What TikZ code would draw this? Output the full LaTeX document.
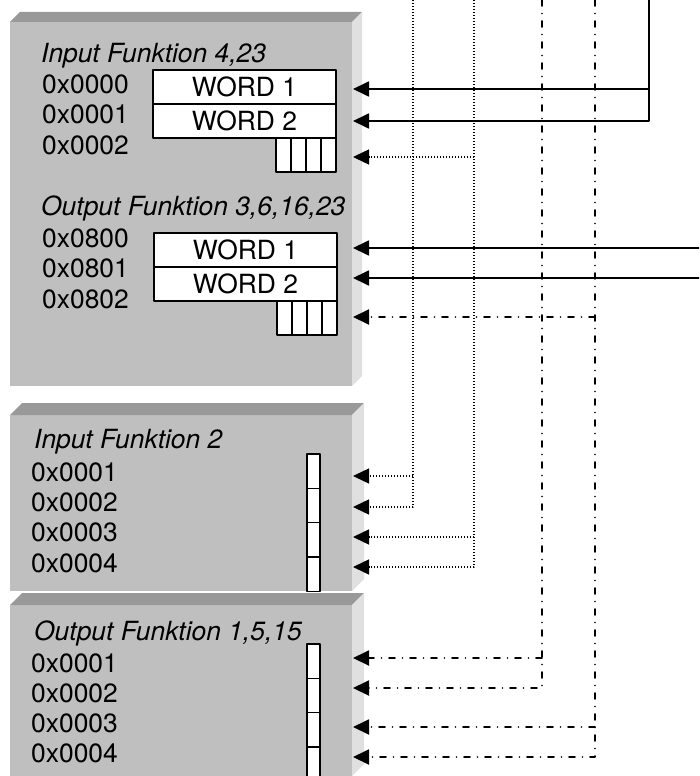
\documentclass[tikz,border=0pt]{standalone}
\usepackage{fontspec}
\setmainfont{TeX Gyre Heros}
\usetikzlibrary{arrows.meta}
\definecolor{slabfront}{gray}{0.75}
\definecolor{slabtop}{gray}{0.6}
\definecolor{slabside}{gray}{0.88}
\newcommand{\diagfont}{\fontsize{26.4pt}{30pt}\selectfont}
\begin{document}
\begin{tikzpicture}[x=1pt,y=-1pt,line join=round,line cap=round,
	>={Triangle[length=16pt,width=15pt]},
	fktlabel/.style={anchor=base west,inner sep=0pt,font=\diagfont\itshape},
	addrlabel/.style={anchor=base west,inner sep=0pt,font=\diagfont},
	wordbox/.style={draw,fill=white,line width=1.4pt,minimum width=183pt,minimum height=34pt,inner sep=0pt,font=\diagfont},
	bitbox/.style={draw,fill=white,line width=1.4pt,minimum width=15pt,minimum height=34pt,inner sep=0pt},
	regbox/.style={draw,fill=white,line width=1.4pt,minimum width=13pt,minimum height=34.3pt,inner sep=0pt},
	solidarr/.style={->,line width=1.8pt},
	dotarr/.style={->,line width=1.5pt,line cap=butt,dash pattern=on 1.4pt off 1.6pt},
	dasharr/.style={->,line width=1.9pt,dash pattern=on 6pt off 7.5pt on 0pt off 7.5pt}]
		\useasboundingbox (0,0) rectangle (699,776);
		\clip (0,0) rectangle (699,776);
		\foreach \ya/\yb/\d in {22/386/10,415/591/12,605/776/12}
		{\fill[slabfront] (10,\ya) rectangle (352,\yb);
		 \fill[slabtop] (10,\ya)--(10+\d,\ya-\d)--(352+\d,\ya-\d)--(352,\ya)--cycle;
		 \fill[slabside] (352,\ya)--(352+\d,\ya-\d)--(352+\d,\yb-\d)--(352,\yb)--cycle;}
		\begin{scope}
			\node[fktlabel] (fin1) at (41,63) {Input Funktion 4,23};
			\node[addrlabel] (ia0) at (42,93) {0x0000};
			\node[addrlabel] (ia1) at (42,123) {0x0001};
			\node[addrlabel] (ia2) at (42,154) {0x0002};
			\node[wordbox] (iword1) at (244.5,87) {WORD 1};
			\node[wordbox] (iword2) at (244.5,121) {WORD 2};
			\foreach \i in {0,1,2,3}
			{\node[bitbox] (ibit\i) at (283.5+\i*15,155) {};}
			\node[fktlabel] (fout1) at (41,215) {Output Funktion 3,6,16,23};
			\node[addrlabel] (oa0) at (42,247) {0x0800};
			\node[addrlabel] (oa1) at (42,277) {0x0801};
			\node[addrlabel] (oa2) at (42,308) {0x0802};
			\node[wordbox] (oword1) at (245.5,250) {WORD 1};
			\node[wordbox] (oword2) at (245.5,284) {WORD 2};
			\foreach \i in {0,1,2,3}
			{\node[bitbox] (obit\i) at (284.5+\i*15,318) {};}
		\end{scope}
		\begin{scope}
			\node[fktlabel] (fin2) at (34,448) {Input Funktion 2};
			\foreach \i/\y in {1/481,2/511,3/541,4/572}
			{\node[addrlabel] (ra\i) at (31,\y) {0x000\i};
			 \node[regbox] (reg\i) at (313.5,471.2+\i*34.3-34.3) {};}
		\end{scope}
		\begin{scope}
			\node[fktlabel] (fout2) at (34,640) {Output Funktion 1,5,15};
			\foreach \i/\y in {1/672,2/702,3/732,4/762}
			{\node[addrlabel] (ca\i) at (31,\y) {0x000\i};
			 \node[regbox] (coil\i) at (313.5,661.2+\i*34.3-34.3) {};}
		\end{scope}
		\coordinate (s0) at (649,0);
		\coordinate (d1) at (413,0);
		\coordinate (d2) at (474,0);
		\coordinate (c1) at (542,0);
		\coordinate (c2) at (595,0);
		\coordinate (r1) at (699,248);
		\coordinate (r2) at (699,278);
		\coordinate (iw1) at (353,89);
		\coordinate (iw2) at (353,121);
		\coordinate (ib) at (353,157);
		\coordinate (ow1) at (353,248);
		\coordinate (ow2) at (353,278);
		\coordinate (ob) at (353,317);
		\foreach \i/\y in {1/476,2/507,3/537,4/567}
		{\coordinate (in\i) at (353,\y);}
		\foreach \i/\y in {1/658,2/688,3/727,4/757}
		{\coordinate (out\i) at (353,\y);}
		\draw[dotarr] (d1) |- (in2);
		\draw[dotarr] (d1 |- in1) -- (in1);
		\draw[dotarr] (d2) |- (in4);
		\draw[dotarr] (d2 |- in3) -- (in3);
		\draw[dotarr] (d2 |- ib) -- (ib);
		\draw[dasharr] (c1) |- (out2);
		\draw[dasharr] (c1 |- out1) -- (out1);
		\draw[dasharr] (c2) |- (out4);
		\draw[dasharr] (c2 |- out3) -- (out3);
		\draw[dasharr] (c2 |- ob) -- (ob);
		\draw[solidarr] (s0) |- (iw2);
		\draw[solidarr] (s0 |- iw1) -- (iw1);
		\draw[solidarr] (r1) -- (ow1);
		\draw[solidarr] (r2) -- (ow2);
		\end{tikzpicture}
\end{document}
